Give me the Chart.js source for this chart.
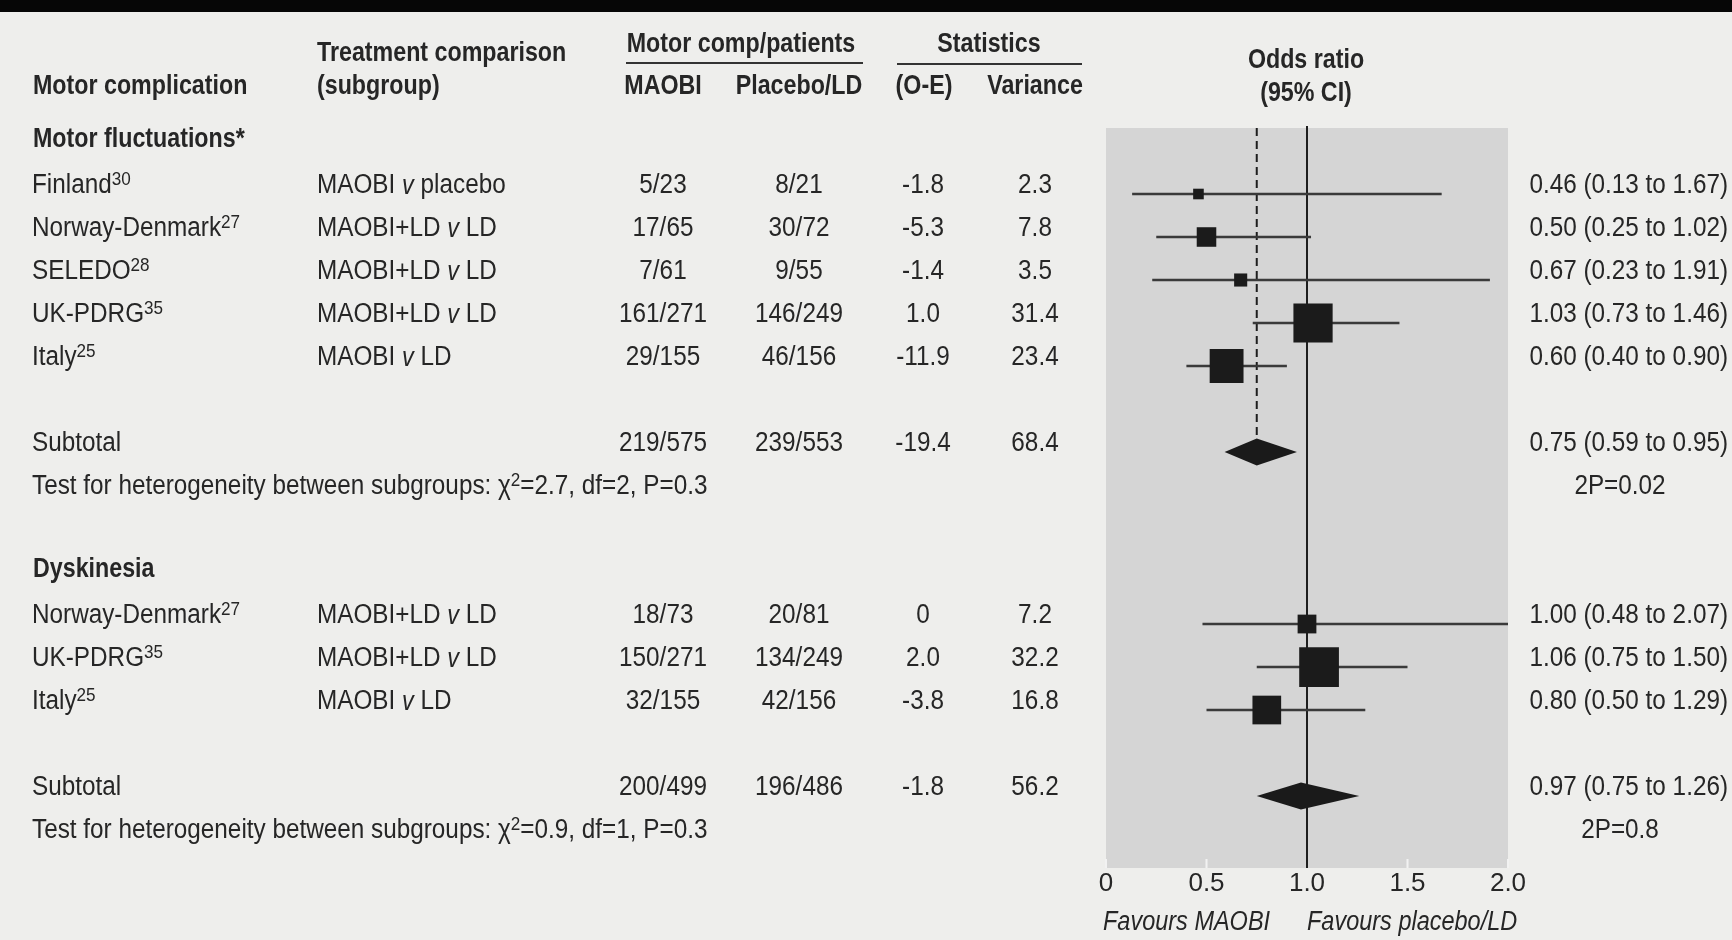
<!DOCTYPE html>
<html>
<head>
<meta charset="utf-8">
<title>Motor complications: MAOBI v placebo/LD</title>
<script src="https://cdn.jsdelivr.net/npm/chart.js@4.4.1/dist/chart.umd.min.js"></script>
<style>
  html, body { margin: 0; padding: 0; background: #eeeeec; }
  #wrap { width: 1732px; height: 940px; }
</style>
</head>
<body>
<div id="wrap"><canvas id="forest" width="1732" height="940"></canvas></div>
<script>
// ---- data ----
const studyNames = ['Finland', 'Norway-Denmark', 'SELEDO', 'UK-PDRG', 'Italy', 'Norway-Denmark', 'UK-PDRG', 'Italy'];
const studyRefs = ['30', '27', '28', '35', '25', '27', '35', '25'];
const comparisons = ['MAOBI v placebo', 'MAOBI+LD v LD', 'MAOBI+LD v LD', 'MAOBI+LD v LD', 'MAOBI v LD',
                     'MAOBI+LD v LD', 'MAOBI+LD v LD', 'MAOBI v LD'];
const maobiEvents = ['5/23', '17/65', '7/61', '161/271', '29/155', '18/73', '150/271', '32/155'];
const placeboEvents = ['8/21', '30/72', '9/55', '146/249', '46/156', '20/81', '134/249', '42/156'];
const oMinusE = [-1.8, -5.3, -1.4, 1.0, -11.9, 0, 2.0, -3.8];
const variance = [2.3, 7.8, 3.5, 31.4, 23.4, 7.2, 32.2, 16.8];
const oddsRatio = [0.46, 0.50, 0.67, 1.03, 0.60, 1.00, 1.06, 0.80];
const ciLow = [0.13, 0.25, 0.23, 0.73, 0.40, 0.48, 0.75, 0.50];
const ciHigh = [1.67, 1.02, 1.91, 1.46, 0.90, 2.07, 1.50, 1.29];
const studyRows = [0, 1, 2, 3, 4, 10, 11, 12];

const groupNames = ['Motor fluctuations*', 'Dyskinesia'];
const groupRows = [-1, 9];
const subRows = [6, 14];
const subMaobi = ['219/575', '200/499'];
const subPlacebo = ['239/553', '196/486'];
const subOE = [-19.4, -1.8];
const subVar = [68.4, 56.2];
const subOR = [0.75, 0.97];
const subLow = [0.59, 0.75];
const subHigh = [0.95, 1.26];
const subP = ['2P=0.02', '2P=0.8'];
const hetChi = ['2.7', '0.9'];
const hetDf = ['2', '1'];
const hetP = ['0.3', '0.3'];

const xTicks = [0, 0.5, 1, 1.5, 2];

// ---- look ----
// no condensed face is installed, so text is squeezed horizontally
const FAMILY = '"Liberation Sans", Arial, sans-serif';
const REG = { f: '27px ' + FAMILY, sx: 0.9 };
const BOLD = { f: 'bold 28px ' + FAMILY, sx: 0.83 };
const ITAL = { f: 'italic 27px ' + FAMILY, sx: 0.87 };
const SUP = { f: '19px ' + FAMILY, sx: 0.9 };
const TEXT = '#262626';
const PAGE_BG = '#eeeeec';
const PANEL_BG = '#d5d5d5';

// column anchors
const COL_NAME = 32;
const COL_CMP = 317;
const COL_MAOBI = 663;
const COL_PLAC = 799;
const COL_OE = 923;
const COL_VAR = 1035;
const COL_OR = 1728;
const COL_P = 1620;
const TEXT_DY = -8;

function width(ctx, t, st) {
  ctx.font = st.f;
  return ctx.measureText(t).width * st.sx;
}

function put(ctx, t, x, y, st) {
  ctx.save();
  ctx.translate(x, y);
  ctx.scale(st.sx, 1);
  ctx.font = st.f;
  ctx.textAlign = 'left';
  ctx.fillText(t, 0, 0);
  ctx.restore();
}

function text(ctx, t, x, y, st, align) {
  const w = width(ctx, t, st);
  const lx = align === 'center' ? x - w / 2 : align === 'right' ? x - w : x;
  put(ctx, t, lx, y, st);
}

function drawRuns(ctx, x, y, runs, align) {
  let total = 0;
  runs.forEach(r => { r.w = width(ctx, r.t, r.st); total += r.w; });
  let cx = align === 'center' ? x - total / 2 : align === 'right' ? x - total : x;
  runs.forEach(r => {
    put(ctx, r.t, cx, y + (r.dy || 0), r.st);
    cx += r.w;
  });
}

function cmpRuns(s) {
  const parts = s.split(' v ');
  return [{ t: parts[0] + ' ', st: REG }, { t: 'v', st: ITAL }, { t: ' ' + parts[1], st: REG }];
}

const fmtOE = v => v === 0 ? '0' : v.toFixed(1);
const fmtOR = (o, l, h) => o.toFixed(2) + ' (' + l.toFixed(2) + ' to ' + h.toFixed(2) + ')';
const side = v => 7 * Math.sqrt(v);

const forestPlugin = {
  id: 'forest',
  beforeDraw(chart) {
    const { ctx, chartArea: a } = chart;
    ctx.save();
    ctx.fillStyle = PAGE_BG;
    ctx.fillRect(0, 0, chart.width, chart.height);
    ctx.fillStyle = '#060606';
    ctx.fillRect(0, 0, chart.width, 12);
    ctx.fillStyle = PANEL_BG;
    ctx.fillRect(a.left, a.top, a.right - a.left, a.bottom - a.top);
    ctx.restore();
  },
  beforeDatasetsDraw(chart) {
    const { ctx, chartArea: a, scales: { x, y } } = chart;
    ctx.save();
    // small white tick marks at the foot of the panel
    ctx.strokeStyle = '#f2f2f2';
    ctx.lineWidth = 2;
    xTicks.forEach(v => {
      if (v === 1) return;
      const px = x.getPixelForValue(v);
      ctx.beginPath(); ctx.moveTo(px, a.bottom); ctx.lineTo(px, a.bottom - 9); ctx.stroke();
    });
    // line of no effect
    ctx.strokeStyle = '#1e1e1e';
    ctx.lineWidth = 2;
    const p1 = x.getPixelForValue(1);
    ctx.beginPath(); ctx.moveTo(p1, a.top - 2); ctx.lineTo(p1, a.bottom); ctx.stroke();
    // dashed line at the first subtotal
    ctx.setLineDash([8, 5]);
    const pd = x.getPixelForValue(subOR[0]);
    ctx.beginPath(); ctx.moveTo(pd, a.top); ctx.lineTo(pd, y.getPixelForValue(subRows[0])); ctx.stroke();
    ctx.setLineDash([]);
    // confidence intervals
    ctx.beginPath(); ctx.rect(a.left, a.top, a.right - a.left, a.bottom - a.top); ctx.clip();
    ctx.strokeStyle = '#3a3a3a';
    ctx.lineWidth = 2.5;
    studyRows.forEach((r, i) => {
      const py = y.getPixelForValue(r);
      ctx.beginPath();
      ctx.moveTo(x.getPixelForValue(ciLow[i]), py);
      ctx.lineTo(x.getPixelForValue(ciHigh[i]), py);
      ctx.stroke();
    });
    ctx.restore();
  },
  afterDatasetsDraw(chart) {
    const { ctx, scales: { x, y } } = chart;
    ctx.save();
    ctx.fillStyle = '#1a1a1a';
    subRows.forEach((r, i) => {
      const py = y.getPixelForValue(r);
      ctx.beginPath();
      ctx.moveTo(x.getPixelForValue(subLow[i]), py);
      ctx.lineTo(x.getPixelForValue(subOR[i]), py - 13.5);
      ctx.lineTo(x.getPixelForValue(subHigh[i]), py);
      ctx.lineTo(x.getPixelForValue(subOR[i]), py + 13.5);
      ctx.closePath();
      ctx.fill();
    });
    ctx.restore();
  },
  afterDraw(chart) {
    const { ctx, scales: { x, y } } = chart;
    ctx.save();
    ctx.fillStyle = TEXT;
    ctx.textBaseline = 'middle';

    // column headings
    text(ctx, 'Treatment comparison', COL_CMP, 53, BOLD);
    text(ctx, 'Motor comp/patients', 741, 44, BOLD, 'center');
    text(ctx, 'Statistics', 989, 44, BOLD, 'center');
    text(ctx, 'Odds ratio', 1306, 60, BOLD, 'center');
    text(ctx, 'Motor complication', COL_NAME + 1, 86, BOLD);
    text(ctx, '(subgroup)', COL_CMP, 86, BOLD);
    text(ctx, 'MAOBI', COL_MAOBI, 86, BOLD, 'center');
    text(ctx, 'Placebo/LD', COL_PLAC, 86, BOLD, 'center');
    text(ctx, '(O-E)', COL_OE + 1, 86, BOLD, 'center');
    text(ctx, 'Variance', COL_VAR, 86, BOLD, 'center');
    text(ctx, '(95% CI)', 1306, 93, BOLD, 'center');
    ctx.strokeStyle = '#333';
    ctx.lineWidth = 2;
    ctx.beginPath(); ctx.moveTo(626, 63); ctx.lineTo(863, 63); ctx.stroke();
    ctx.beginPath(); ctx.moveTo(897, 64); ctx.lineTo(1082, 64); ctx.stroke();

    // group headings
    groupNames.forEach((g, i) => {
      text(ctx, g, COL_NAME + 1, y.getPixelForValue(groupRows[i]) - 12, BOLD);
    });

    // study rows
    studyRows.forEach((r, i) => {
      const py = y.getPixelForValue(r) + TEXT_DY;
      drawRuns(ctx, COL_NAME, py, [{ t: studyNames[i], st: REG }, { t: studyRefs[i], st: SUP, dy: -6 }], 'left');
      drawRuns(ctx, COL_CMP, py, cmpRuns(comparisons[i]), 'left');
      text(ctx, maobiEvents[i], COL_MAOBI, py, REG, 'center');
      text(ctx, placeboEvents[i], COL_PLAC, py, REG, 'center');
      text(ctx, fmtOE(oMinusE[i]), COL_OE, py, REG, 'center');
      text(ctx, variance[i].toFixed(1), COL_VAR, py, REG, 'center');
      text(ctx, fmtOR(oddsRatio[i], ciLow[i], ciHigh[i]), COL_OR, py, REG, 'right');
    });

    // subtotals and heterogeneity tests
    subRows.forEach((r, i) => {
      const py = y.getPixelForValue(r) + TEXT_DY;
      text(ctx, 'Subtotal', COL_NAME, py, REG);
      text(ctx, subMaobi[i], COL_MAOBI, py, REG, 'center');
      text(ctx, subPlacebo[i], COL_PLAC, py, REG, 'center');
      text(ctx, fmtOE(subOE[i]), COL_OE, py, REG, 'center');
      text(ctx, subVar[i].toFixed(1), COL_VAR, py, REG, 'center');
      text(ctx, fmtOR(subOR[i], subLow[i], subHigh[i]), COL_OR, py, REG, 'right');
      const pt = y.getPixelForValue(r + 1) + TEXT_DY;
      text(ctx, subP[i], COL_P, pt, REG, 'center');
      drawRuns(ctx, COL_NAME, pt, [
        { t: 'Test for heterogeneity between subgroups: \u03c7', st: REG },
        { t: '2', st: SUP, dy: -6 },
        { t: '=' + hetChi[i] + ', df=' + hetDf[i] + ', P=' + hetP[i], st: REG }
      ], 'left');
    });

    // axis captions
    const fy = 922;
    text(ctx, 'Favours MAOBI', x.getPixelForValue(0) - 3, fy, ITAL);
    text(ctx, 'Favours placebo/LD', x.getPixelForValue(1), fy, ITAL);
    ctx.restore();
  }
};

new Chart(document.getElementById('forest'), {
  type: 'scatter',
  data: {
    datasets: [{
      data: studyRows.map((r, i) => ({ x: oddsRatio[i], y: r })),
      pointStyle: 'rect',
      pointRadius: variance.map(v => side(v) / Math.SQRT2),
      pointHoverRadius: variance.map(v => side(v) / Math.SQRT2),
      backgroundColor: '#1b1b1b',
      borderWidth: 0
    }]
  },
  options: {
    responsive: false,
    animation: false,
    devicePixelRatio: 1,
    events: [],
    layout: { padding: { left: 1106, right: 224, top: 128, bottom: 0 } },
    plugins: { legend: { display: false }, tooltip: { enabled: false } },
    scales: {
      x: {
        type: 'linear',
        min: 0,
        max: 2,
        afterFit(s) { s.height = 72; },
        afterBuildTicks(s) { s.ticks = xTicks.map(v => ({ value: v })); },
        grid: { display: false, drawTicks: false },
        border: { display: false },
        ticks: {
          padding: 0,
          color: TEXT,
          font: { family: FAMILY, size: 26 },
          maxRotation: 0,
          autoSkip: false,
          callback: v => v === 0 ? '0' : v.toFixed(1)
        }
      },
      y: { type: 'linear', display: false, reverse: true, min: -1.535, max: 15.674 }
    }
  },
  plugins: [forestPlugin]
});
</script>
</body>
</html>
